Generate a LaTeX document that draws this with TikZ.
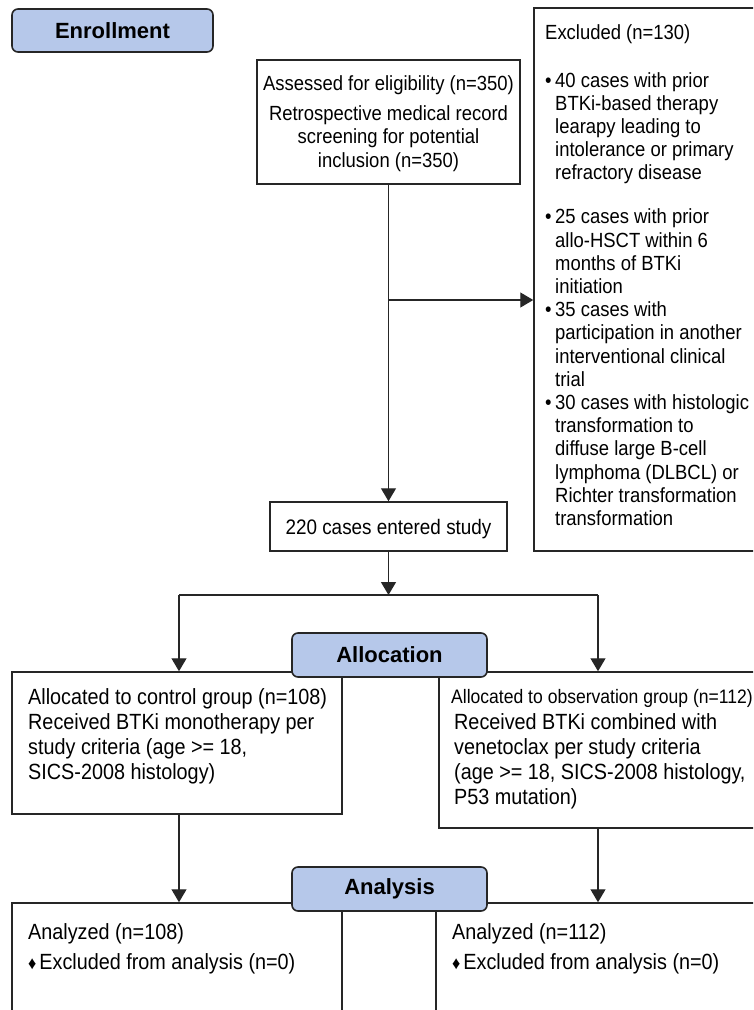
\documentclass[tikz,border=0pt]{standalone}
\usepackage{fontspec}
\setmainfont{Liberation Sans}[FakeStretch=0.9]
\newfontfamily\hdfont{Liberation Sans}
\usetikzlibrary{arrows.meta,fit}
\definecolor{hdrblue}{RGB}{182,200,234}
\newcommand\xbul{\makebox[10pt][l]{•}}
\newcommand\xind{\hspace*{10pt}}
\begin{document}
\begin{tikzpicture}[x=1pt,y=-1pt,
  hdr/.style={draw=black!85, line width=1.6pt, fill=hdrblue, rounded corners=6pt, inner sep=0pt,
    font=\hdfont\bfseries\fontsize{22}{26}\selectfont},
  box/.style={draw=black!85, line width=1.5pt, fill=white, inner sep=0pt},
  txt/.style={inner sep=0pt, anchor=base west},
  ctxt/.style={inner sep=0pt, anchor=base},
  arr/.style={draw=black!85, line width=1.4pt, -{Triangle[length=13pt,width=15pt]}},
  ln/.style={draw=black!85, line width=1.4pt}]
\path[use as bounding box] (0,0) rectangle (753,1010);
\clip (0,0) rectangle (753,1010);

% boxes
\node[box, fit={(257,60)(520,184)}] (ass) {};
\node[box, fit={(534,8)(775,551)}] (exc) {};
\node[box, fit={(270,502)(507,551)}] (n220) {};
\node[box, fit={(12,672)(342,814)}] (ctl) {};
\node[box, fit={(439,672)(775,828)}] (obs) {};
\node[box, fit={(12,903)(342,1040)}] (anl) {};
\node[box, fit={(436,903)(775,1040)}] (anr) {};

% headers
\node[hdr, minimum width=201pt, minimum height=43pt] (enr) at (112.5,30.5) {Enrollment};
\node[hdr, minimum width=195pt, minimum height=44pt] (alloc) at (389.5,655) {Allocation};
\node[hdr, minimum width=195pt, minimum height=44pt] (anal) at (389.5,889) {Analysis};

% texts
\node[ctxt] (asstxt) at (388.5,90) {\parbox[t]{260pt}{\centering\fontsize{20.5}{23.5}\selectfont
  Assessed for eligibility (n=350)\\[6.5pt]
  Retrospective medical record\\
  screening for potential\\
  inclusion (n=350)}};

\node[txt] (exctxt) at (545,39) {\parbox[t]{320pt}{\raggedright\fontsize{20.5}{23.2}\selectfont
  Excluded (n=130)\\[24.8pt]
  \xbul 40 cases with prior\\
  \xind BTKi-based therapy\\
  \xind learapy leading to\\
  \xind intolerance or primary\\
  \xind refractory disease\\[20.8pt]
  \xbul 25 cases with prior\\
  \xind allo-HSCT within 6\\
  \xind months of BTKi\\
  \xind initiation\\
  \xbul 35 cases with\\
  \xind participation in another\\
  \xind interventional clinical\\
  \xind trial\\
  \xbul 30 cases with histologic\\
  \xind transformation to\\
  \xind diffuse large B-cell\\
  \xind lymphoma (DLBCL) or\\
  \xind Richter transformation\\
  \xind transformation}};

\node[ctxt] (n220txt) at (388.5,534) {\fontsize{21}{24}\selectfont 220 cases entered study};

\node[txt] (ctltxt) at (28,704) {\parbox[t]{320pt}{\raggedright\fontsize{22}{25}\selectfont
  Allocated to control group (n=108)\\
  Received BTKi monotherapy per\\
  study criteria (age >= 18,\\
  SICS-2008 histology)}};

\node[txt] (obshd) at (451,703) {\fontsize{19.5}{24}\selectfont Allocated to observation group (n=112)};
\node[txt] (obstxt) at (454,729) {\parbox[t]{320pt}{\raggedright\fontsize{22}{25.3}\selectfont
  Received BTKi combined with\\
  venetoclax per study criteria\\
  (age >= 18, SICS-2008 histology,\\
  P53 mutation)}};

\node[txt] (anltxt) at (28,939) {\parbox[t]{320pt}{\raggedright\fontsize{22}{30}\selectfont
  Analyzed (n=108)\\
  {\fontsize{18}{18}\selectfont ♦}\hspace{3pt}Excluded from analysis (n=0)}};
\node[txt] (anrtxt) at (452,939) {\parbox[t]{320pt}{\raggedright\fontsize{22}{30}\selectfont
  Analyzed (n=112)\\
  {\fontsize{18}{18}\selectfont ♦}\hspace{3pt}Excluded from analysis (n=0)}};

% connectors
\coordinate (br) at (388.5,300);
\coordinate (split) at (388.5,595);
\coordinate (sl) at (179,595);
\coordinate (sr) at (598,595);
\draw[arr] (ass.south) -- (n220.north);
\draw[arr] (br) -- (br -| exc.west);
\draw[arr] (n220.south) -- (split);
\draw[ln] (sl) -- (sr);
\draw[arr] (sl) -- (sl |- ctl.north);
\draw[arr] (sr) -- (sr |- obs.north);
\draw[arr] (sl |- ctl.south) -- (sl |- anl.north);
\draw[arr] (sr |- obs.south) -- (sr |- anr.north);
\end{tikzpicture}
\end{document}
